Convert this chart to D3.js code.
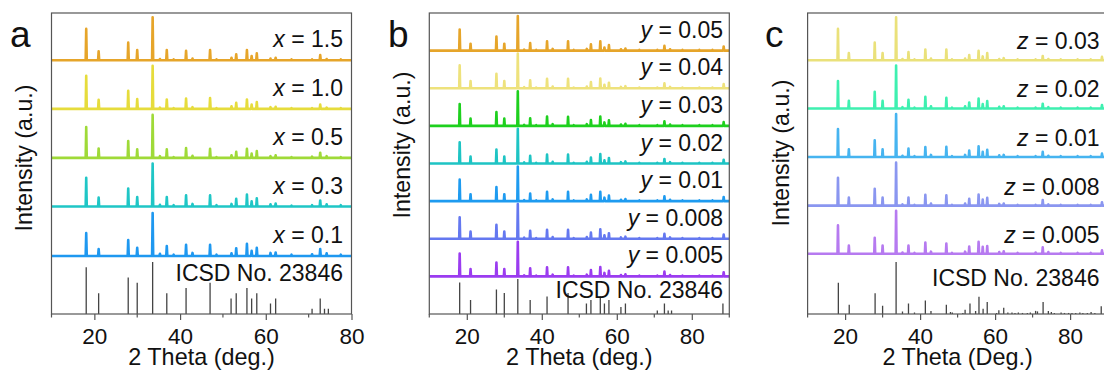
<!DOCTYPE html>
<html>
<head>
<meta charset="utf-8">
<script src="https://cdn.jsdelivr.net/npm/d3@7/dist/d3.min.js"></script>
<style>
  body { margin: 0; background: #fff; }
  svg { display: block; font-family: Arial, "Liberation Sans", sans-serif; }
</style>
</head>
<body>
<svg id="chart" width="1104" height="374"></svg>
<script>
// ---- data -----------------------------------------------------------------
// 2-theta positions of the peaks seen in the measured patterns
const peakPos = [18.1, 21.0, 27.9, 30.0, 33.6, 35.3, 36.9, 38.5, 41.4, 42.9, 47.0, 48.5,
  52.0, 53.1, 55.6, 56.7, 57.9, 61.1, 62.3, 66.0, 70.8, 72.7, 74.2, 77.5, 82.0, 85.5, 88.5];

// panel a : x series (relative intensity, %)
const seriesA = ['1.5', '1.0', '0.5', '0.3', '0.1'];
const colorsA = ['#e6a52a', '#e6dc3c', '#9fda38', '#1fc6c6', '#1e98f0'];
const intensA = [
  [73, 21, 41, 24, 100, 3, 24, 2, 22, 4, 24, 2, 6, 14, 24, 10, 16, 4, 6, 2, 2, 12, 3, 2, 0, 0, 0],
  [77, 21, 42, 23, 100, 3, 22, 2, 24, 4, 25, 2, 6, 14, 22, 10, 16, 4, 5, 2, 2, 10, 3, 2, 0, 0, 0],
  [72, 22, 39, 20, 100, 4, 20, 2, 23, 5, 21, 2, 6, 14, 21, 10, 16, 4, 6, 2, 3, 12, 4, 2, 0, 0, 0],
  [67, 21, 42, 22, 100, 4, 22, 3, 26, 6, 26, 3, 6, 18, 28, 12, 19, 5, 7, 2, 3, 14, 5, 3, 0, 0, 0],
  [53, 16, 37, 19, 100, 5, 23, 3, 26, 7, 26, 3, 6, 18, 28, 12, 19, 7, 8, 3, 4, 16, 6, 3, 0, 0, 0],
];

// panel b : y series
const seriesB = ['0.05', '0.04', '0.03', '0.02', '0.01', '0.008', '0.005'];
const colorsB = ['#e6a52a', '#eee27c', '#1ed01e', '#1ec4c4', '#1e9bf0', '#6478f0', '#9b3cf0'];
const intensB = [
  [61, 20, 41, 20, 100, 3, 22, 2, 27, 5, 27, 2, 5, 18, 27, 9, 16, 4, 6, 2, 2, 14, 4, 2, 2, 2, 12],
  [66, 21, 42, 21, 100, 3, 23, 2, 27, 5, 27, 2, 5, 18, 28, 10, 16, 4, 6, 2, 2, 14, 4, 2, 2, 2, 12],
  [63, 21, 40, 21, 100, 3, 22, 2, 27, 5, 26, 2, 5, 17, 27, 10, 16, 4, 6, 2, 2, 13, 4, 2, 2, 2, 11],
  [61, 20, 40, 20, 100, 3, 22, 2, 26, 5, 26, 2, 5, 17, 27, 9, 16, 4, 6, 2, 2, 13, 4, 2, 2, 2, 11],
  [62, 20, 41, 20, 100, 3, 22, 2, 27, 5, 27, 2, 5, 18, 27, 10, 16, 4, 6, 2, 2, 14, 4, 2, 2, 2, 12],
  [62, 21, 40, 21, 100, 3, 23, 2, 26, 5, 26, 2, 5, 18, 27, 10, 16, 4, 6, 2, 2, 14, 4, 2, 2, 2, 12],
  [66, 21, 40, 21, 100, 3, 23, 2, 26, 5, 26, 2, 5, 18, 27, 10, 16, 4, 6, 2, 2, 14, 4, 2, 2, 2, 12],
];

// panel c : z series
const seriesC = ['0.03', '0.02', '0.01', '0.008', '0.005'];
const colorsC = ['#eae17a', '#3ef0b0', '#46b4f0', '#8a96f0', '#b67af0'];
const intensC = [
  [73, 17, 41, 17, 100, 3, 19, 2, 25, 4, 25, 2, 4, 12, 22, 9, 17, 3, 5, 2, 2, 10, 3, 2, 2, 2, 8],
  [64, 18, 39, 18, 100, 3, 20, 2, 27, 5, 25, 2, 5, 14, 23, 10, 17, 4, 5, 2, 2, 11, 3, 2, 2, 2, 8],
  [65, 18, 39, 18, 100, 3, 20, 2, 23, 5, 24, 2, 5, 15, 25, 12, 17, 4, 5, 2, 2, 12, 3, 2, 2, 2, 8],
  [65, 19, 39, 19, 100, 3, 19, 2, 25, 5, 24, 2, 5, 16, 26, 14, 18, 4, 5, 2, 2, 13, 3, 2, 2, 2, 8],
  [66, 19, 37, 19, 100, 3, 19, 2, 26, 5, 24, 2, 5, 17, 28, 16, 18, 4, 6, 2, 3, 15, 4, 2, 2, 2, 8],
];

// reference sticks, ICSD No. 23846 [2theta, rel. intensity]
const icsdAB = [[18.1, 90], [21.0, 40], [27.9, 70], [30.0, 60], [33.6, 100], [36.9, 40],
  [41.4, 50], [47.0, 60], [51.9, 30], [53.1, 40], [55.6, 50], [56.7, 30], [57.9, 40],
  [61.1, 20], [62.3, 30], [70.8, 10], [72.7, 30], [73.7, 10], [74.6, 10], [88.3, 30]];
const icsdC = [[18.2, 60], [21.1, 18], [28.0, 40], [30.0, 16], [33.6, 100], [35.3, 5], [36.9, 20],
  [38.5, 3], [41.4, 26], [42.9, 6], [47.0, 18], [48.1, 4], [48.6, 3], [51.4, 2], [52.0, 8],
  [53.3, 20], [54.8, 6], [55.7, 33], [56.8, 10], [57.9, 23], [60.4, 2], [61.0, 7], [62.3, 12],
  [63.4, 3], [64.5, 3], [65.3, 2], [66.2, 3], [67.3, 2], [68.6, 2], [69.4, 3], [70.8, 6],
  [71.3, 5], [72.8, 23], [74.2, 6], [75.0, 4], [75.8, 2], [77.6, 3], [78.5, 2], [79.6, 2],
  [80.5, 2], [81.5, 2], [82.6, 3], [83.4, 2], [84.6, 2], [85.6, 4], [86.6, 2], [88.3, 15]];

const majorTicks = [20, 40, 60, 80];
const minorA = [10, 30, 50, 70];
const minorBC = [10, 30, 50, 70, 90];

// ---- layout ---------------------------------------------------------------
const svg = d3.select('#chart');
const TOP = 13, BOTTOM = 314;

const panels = [
  { id: 'a', left: 51.5, right: 351.5, xdom: [10, 80], minor: minorA, ymax: 700,
    names: seriesA, colors: colorsA, intens: intensA, varName: 'x',
    offsets: [590, 477, 363, 250, 135], traceK: 1.0, icsd: icsdAB, icsdK: 1.21,
    labelDy: 13, icsdY: 33, textRight: 343, xTitle: '2 Theta (deg.)', yMid: 158, yX: 32, letterX: 10 },
  { id: 'b', left: 429.3, right: 729.3, xdom: [10, 90], minor: minorBC, ymax: 800,
    names: seriesB, colors: colorsB, intens: intensB, varName: 'y',
    offsets: [700, 600, 500, 400, 300, 200, 100], traceK: 0.92, icsd: icsdAB, icsdK: 0.93,
    labelDy: 13, icsdY: 16.5, textRight: 723, xTitle: '2 Theta (deg.)', yMid: 145, yX: 410, letterX: 388 },
  { id: 'c', left: 807.6, right: 1107.6, xdom: [10, 90], minor: minorBC, ymax: 700,
    names: seriesC, colors: colorsC, intens: intensC, varName: 'z',
    offsets: [590, 478, 365, 252, 140], traceK: 1.0, icsd: icsdC, icsdK: 1.21,
    labelDy: 11, icsdY: 28.5, textRight: 1099.5, xTitle: '2 Theta (Deg.)', yMid: 153, yX: 789, letterX: 765 },
];

const PW = 0.13; // half width of a peak, degrees

panels.forEach((p) => {
  const x = d3.scaleLinear().domain(p.xdom).range([p.left, p.right]);
  const y = d3.scaleLinear().domain([0, p.ymax]).range([BOTTOM, TOP]);
  const g = svg.append('g');

  const clipId = 'clip-' + p.id;
  svg.append('clipPath').attr('id', clipId).append('rect')
    .attr('x', p.left).attr('y', TOP).attr('width', p.right - p.left).attr('height', BOTTOM - TOP);

  // reference sticks
  g.append('g').attr('clip-path', `url(#${clipId})`)
    .selectAll('line').data(p.icsd.filter((d) => d[0] < p.xdom[1]))
    .join('line')
    .attr('x1', (d) => x(d[0])).attr('x2', (d) => x(d[0]))
    .attr('y1', y(0)).attr('y2', (d) => y(d[1] * p.icsdK))
    .attr('stroke', '#444').attr('stroke-width', 1.3);

  // measured patterns (bottom first so upper ones overlap)
  const line = d3.line().x((d) => x(d[0])).y((d) => y(d[1]));
  const order = d3.range(p.names.length).reverse();
  const traces = g.append('g').attr('clip-path', `url(#${clipId})`);
  order.forEach((i) => {
    const base = p.offsets[i];
    const pts = [[p.xdom[0], base]];
    peakPos.forEach((pos, j) => {
      const v = p.intens[i][j];
      if (pos >= p.xdom[1] || v <= 0) return;
      pts.push([pos - PW, base], [pos, base + v * p.traceK], [pos + PW, base]);
    });
    pts.push([p.xdom[1], base]);
    traces.append('path').datum(pts)
      .attr('d', line)
      .attr('fill', 'none')
      .attr('stroke', p.colors[i])
      .attr('stroke-width', 2.6)
      .attr('stroke-linejoin', 'round');
  });

  // series labels
  p.names.forEach((n, i) => {
    const t = g.append('text')
      .attr('x', p.textRight)
      .attr('y', y(p.offsets[i]) - p.labelDy)
      .attr('text-anchor', 'end')
      .style('font-size', '23px').attr('fill', '#111');
    t.append('tspan').style('font-style', 'italic').text(p.varName);
    t.append('tspan').text(' = ' + n);
  });

  g.append('text')
    .attr('x', p.textRight)
    .attr('y', y(0) - p.icsdY)
    .attr('text-anchor', 'end')
    .style('font-size', '23px').attr('fill', '#111')
    .text('ICSD No. 23846');

  // frame
  g.append('rect')
    .attr('x', p.left).attr('y', TOP)
    .attr('width', p.right - p.left).attr('height', BOTTOM - TOP)
    .attr('fill', 'none').attr('stroke', '#555').attr('stroke-width', 1.2);

  // bottom axis
  const ax = g.append('g').attr('transform', `translate(0,${BOTTOM})`)
    .call(d3.axisBottom(x).tickValues(majorTicks).tickSize(6).tickPadding(8).tickFormat(d3.format('d')));
  ax.select('.domain').remove();
  ax.selectAll('line').attr('stroke', '#555').attr('stroke-width', 1.2);
  ax.selectAll('text').style('font-size', '22.5px').attr('fill', '#111').attr('font-family', null);
  g.append('g').selectAll('line').data(p.minor).join('line')
    .attr('x1', (d) => x(d)).attr('x2', (d) => x(d))
    .attr('y1', BOTTOM).attr('y2', BOTTOM + 3.5)
    .attr('stroke', '#555').attr('stroke-width', 1.2);

  // titles
  g.append('text')
    .attr('x', (p.left + p.right) / 2).attr('y', 364.5)
    .attr('text-anchor', 'middle').style('font-size', '23.4px').attr('fill', '#111')
    .text(p.xTitle);
  g.append('text')
    .attr('transform', `translate(${p.yX},${p.yMid}) rotate(-90)`)
    .attr('text-anchor', 'middle').style('font-size', '23.2px').attr('fill', '#111')
    .text('Intensity (a.u.)');

  // panel letter
  g.append('text')
    .attr('x', p.letterX).attr('y', 47)
    .style('font-size', '37px').attr('fill', '#111')
    .text(p.id);
});
</script>
</body>
</html>
